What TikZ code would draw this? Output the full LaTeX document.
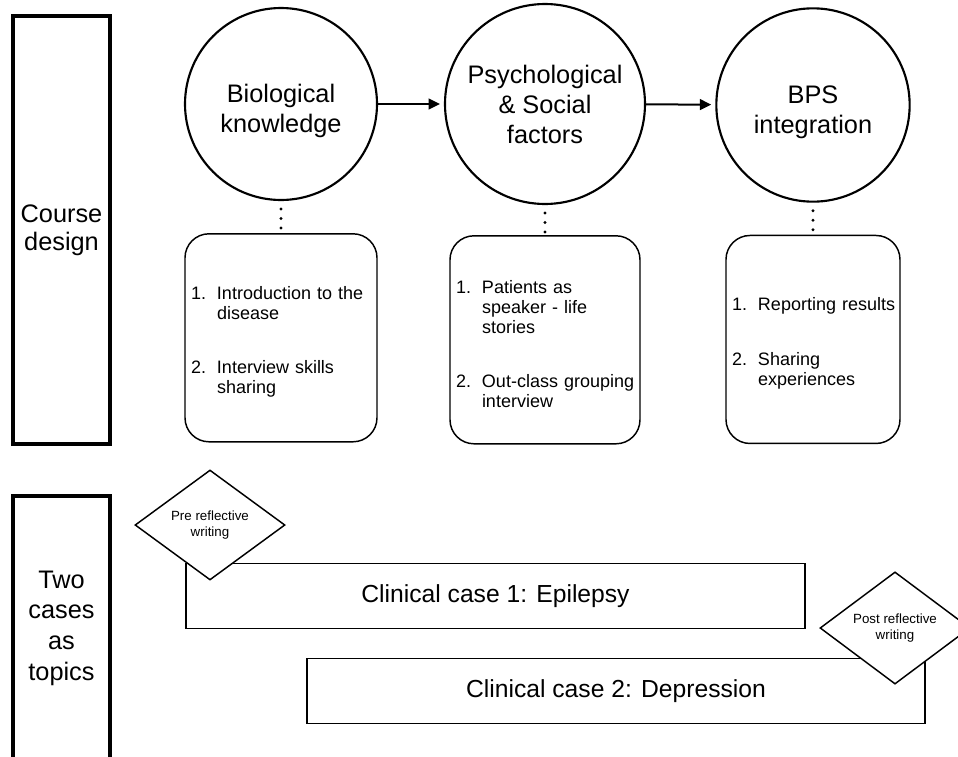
\documentclass[tikz,border=0pt]{standalone}
\usepackage{fontspec}
\setmainfont{Liberation Sans}
\usepackage{tikz}
\usetikzlibrary{arrows.meta}
\usetikzlibrary{positioning}
\usetikzlibrary{shapes}
\tikzstyle{stage}=[draw,circle,line width=1.6pt,minimum size=144pt,inner sep=1pt,align=center,font=\fontsize{19}{22.5}\selectfont]
\tikzstyle{itembox}=[draw,rounded corners=18pt,line width=1.1pt,minimum height=156pt,inner xsep=4.5pt,align=left,font=\fontsize{13.5}{15}\selectfont]
\tikzstyle{casebox}=[draw,line width=1.1pt,minimum height=49pt,font=\fontsize{18.5}{22}\selectfont]
\tikzstyle{reflect}=[draw,diamond,fill=white,line width=1.1pt,minimum width=112.5pt,minimum height=82.5pt,inner sep=0pt,align=center,font=\fontsize{10}{12}\selectfont]
\tikzstyle{sidebar}=[draw,line width=3.4pt,minimum width=72.75pt,align=center,font=\fontsize{19}{21}\selectfont]
\tikzstyle{flow}=[line width=1.5pt,-{Triangle[length=8.5pt,width=8pt]},shorten >=3pt]
\tikzstyle{dotline}=[line width=2.4pt,line cap=round,dash pattern=on 0pt off 7.1pt,dash phase=1.1pt]
\newcommand{\itemno}[1]{\makebox[19.5pt][l]{#1}}
\newcommand{\itemgap}{\hspace*{19.5pt}}

\begin{document}
\begin{tikzpicture}[x=0.75pt,y=-0.75pt]
\useasboundingbox (0,0) rectangle (958,757);

% left bars
\node [sidebar,minimum height=321pt] (design) at (61.5,230) {Course\\design};
\node [sidebar,minimum height=198pt,font=\fontsize{19}{23}\selectfont] (topics) at (61.5,628) {Two\\cases\\as\\topics};

% stages
\node [stage] (bio) at (281,104) {\rule{0pt}{24pt}Biological\\knowledge};
\node [stage,minimum size=150pt] (psy) at (545,104) {Psychological\\\& Social\\factors};
\node [stage,minimum size=145pt] (bps) at (813,105) {\rule{0pt}{24pt}BPS\\integration};
\draw [flow] (bio) -- (psy);
\draw [flow] (psy) -- (bps);

\node [itembox,text width=135pt,below=24pt of bio] (bioitems)
  {\rule{0pt}{16pt}\itemno{1.}\mbox{Introduction to the}\\\itemgap disease\\[26pt]\itemno{2.}\mbox{Interview skills}\\\itemgap sharing};
\node [itembox,text width=133.5pt,below=22.5pt of psy] (psyitems)
  {\rule{0pt}{16pt}\itemno{1.}\mbox{Patients as}\\\itemgap\mbox{speaker - life}\\\itemgap stories\\[26pt]\itemno{2.}\mbox{Out-class grouping}\\\itemgap interview};
\node [itembox,text width=121.5pt,below=24pt of bps] (bpsitems)
  {\rule{0pt}{16pt}\itemno{1.}\mbox{Reporting results}\\[26pt]\itemno{2.}\mbox{Sharing}\\\itemgap experiences};
\draw [dotline] (bio) -- (bioitems);
\draw [dotline] (psy) -- (psyitems);
\draw [dotline] (bps) -- (bpsitems);

% cases
\node [casebox,minimum width=464pt] (epilepsy) at (495.5,596) {Clinical case 1: Epilepsy};
\node [casebox,minimum width=463.5pt] (depression) at (616,691) {Clinical case 2: Depression};
\node [reflect] (pre) at (210,525) {Pre reflective\\writing};
\node [reflect] (post) at (895,628) {Post reflective\\writing};
\end{tikzpicture}
\end{document}
